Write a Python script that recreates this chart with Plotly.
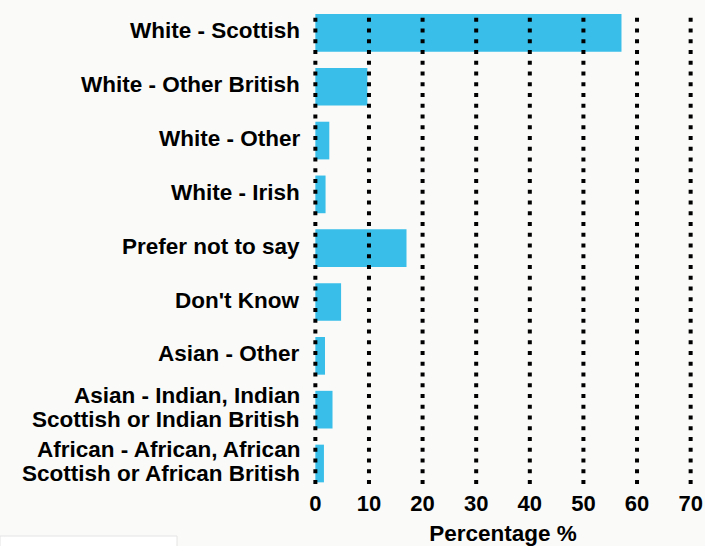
import plotly.graph_objects as go

categories = [
    "White - Scottish",
    "White - Other British",
    "White - Other",
    "White - Irish",
    "Prefer not to say",
    "Don't Know",
    "Asian - Other",
    "Asian - Indian, Indian<br>Scottish or Indian British",
    "African - African, African<br>Scottish or African British",
]
values = [57.1, 9.7, 2.6, 1.9, 17.0, 4.8, 1.8, 3.2, 1.6]
tick_vals = [0, 10, 20, 30, 40, 50, 60, 70]
tick_text = ["0", "10", "20", "30", "40", "50", "60", "70"]

W, H = 705, 546
ML, MR, MT, MB = 310, 9, 6, 54
FONT = "Liberation Sans"
LABEL_SIZE = 22.5

fig = go.Figure(
    go.Bar(
        y=categories,
        x=values,
        orientation="h",
        marker=dict(color="#38BEE8", line=dict(width=0)),
        hoverinfo="x+y",
    )
)

pw = W - ML - MR
ph = H - MT - MB

shapes = []
for v in tick_vals:
    shapes.append(dict(
        type="line", xref="x", yref="paper", x0=v, x1=v,
        y0=(492 - 484) / ph, y1=(492 - 12) / ph,
        line=dict(color="black", width=4, dash="4px,6.75px"), layer="above",
    ))
# white card at bottom-left
shapes.append(dict(
    type="rect", xref="paper", yref="paper",
    x0=(0 - ML) / pw, x1=(177 - ML) / pw,
    y0=(H - MB - 547) / ph, y1=(H - MB - 536) / ph,
    fillcolor="white", line=dict(color="#e4e4e4", width=1), layer="above",
))

# category labels as annotations (tighter line spacing than tick labels)
annotations = []
line_gap = 24
for cat in categories:
    lines = cat.split("<br>")
    n = len(lines)
    for i, ln in enumerate(lines):
        annotations.append(dict(
            xref="paper", yref="y", x=0, y=cat, xanchor="right", yanchor="middle",
            xshift=-8, yshift=((n - 1) / 2 - i) * line_gap + 2,
            text=ln, showarrow=False,
            font=dict(family=FONT, size=LABEL_SIZE, weight="bold", color="black"),
        ))

fig.update_layout(
    width=W, height=H,
    margin=dict(l=ML, r=MR, t=MT, b=MB),
    paper_bgcolor="#fafaf9",
    plot_bgcolor="rgba(0,0,0,0)",
    bargap=0.3,
    showlegend=False,
    shapes=shapes,
    annotations=annotations,
    font=dict(family=FONT, color="black"),
    xaxis=dict(
        range=[-1, 71],
        tickvals=tick_vals, ticktext=tick_text,
        showgrid=False, zeroline=False, showline=False,
        ticks="", ticklabelstandoff=-4,
        tickfont=dict(family=FONT, size=22, weight="bold", color="black"),
        title=dict(text="Percentage %", font=dict(family=FONT, size=22.5, weight="bold", color="black"), standoff=10),
        automargin=False,
        fixedrange=True,
    ),
    yaxis=dict(
        autorange="reversed",
        showgrid=False, zeroline=False, showline=False,
        showticklabels=False,
        automargin=False,
        fixedrange=True,
    ),
)

fig.write_html(
    "out.html",
    config={"displayModeBar": False},
    post_script="document.body.style.margin='0';document.body.style.overflow='hidden';",
)
